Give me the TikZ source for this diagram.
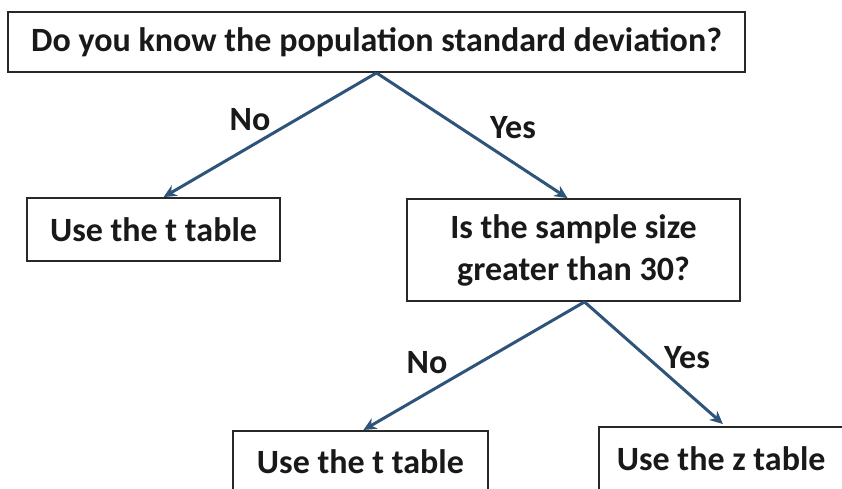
\documentclass[tikz,border=0pt]{standalone}
\usepackage{fontspec}
\setmainfont{Carlito}
\usetikzlibrary{arrows.meta}
\definecolor{arrowc}{RGB}{46,84,122}
\definecolor{boxc}{RGB}{40,40,40}
\begin{document}
\begin{tikzpicture}[x=1pt,y=1pt,
  box/.style={draw=boxc,line width=1.8pt,rectangle,inner sep=0pt,font=\fontsize{34}{42}\selectfont\bfseries,text=black!90},
  conn/.style={draw=arrowc,line width=3pt,-{Stealth[length=13pt,width=12pt]}},
  lab/.style={font=\fontsize{34}{40}\selectfont\bfseries,text=black!90}]
\useasboundingbox (0,0) rectangle (842,488);
\clip (0,0) rectangle (842,488);
\fill[white] (0,0) rectangle (842,488);
\node[box,minimum width=737pt,minimum height=60pt] (top) at (376.5,446) {Do you know the population standard deviation?};
\node[box,minimum width=253pt,minimum height=63pt] (t1) at (153.5,258.5) {Use the t table};
\node[box,minimum width=333pt,minimum height=102pt,align=center] (mid) at (573.5,238) {Is the sample size\\greater than 30?};
\node[box,minimum width=255pt,minimum height=62pt,anchor=north west] (t2) at (232,58) {Use the t table};
\node[box,minimum height=64pt,text width=260pt,align=flush left,inner xsep=18pt,anchor=north west] (z) at (598,62) {Use the z table};
\draw[conn] (top.south) -- ([xshift=10pt]t1.north);
\draw[conn] (top.south) -- ([xshift=-6pt]mid.north);
\draw[conn] ([xshift=11pt]mid.south) -- ([xshift=3pt]t2.north);
\draw[conn] ([xshift=11pt]mid.south) -- ([xshift=-24pt,yshift=2pt]z.north);
\node[lab] (l1) at (250,368) {No};
\node[lab] (l2) at (513,360) {Yes};
\node[lab] (l3) at (427,125) {No};
\node[lab] (l4) at (687,130) {Yes};
\end{tikzpicture}
\end{document}
